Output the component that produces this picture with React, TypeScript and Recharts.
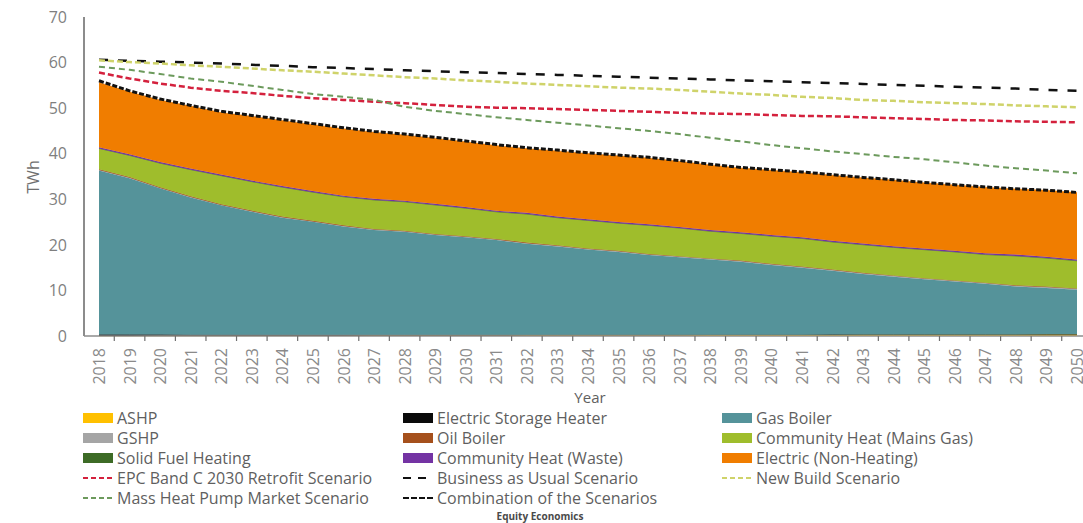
import { Area, ComposedChart, Line, XAxis, YAxis } from 'recharts'

const years = [
  '2018', '2019', '2020', '2021', '2022', '2023', '2024', '2025', '2026', '2027', '2028',
  '2029', '2030', '2031', '2032', '2033', '2034', '2035', '2036', '2037', '2038', '2039',
  '2040', '2041', '2042', '2043', '2044', '2045', '2046', '2047', '2048', '2049', '2050',
]

// stacked technologies (TWh), bottom to top
const ashp = [
  0.02, 0.02, 0.03, 0.03, 0.04, 0.05, 0.06, 0.07, 0.08, 0.09, 0.1, 0.11, 0.12, 0.13, 0.14, 0.15,
  0.16, 0.17, 0.18, 0.19, 0.2, 0.21, 0.22, 0.23, 0.24, 0.25, 0.26, 0.27, 0.28, 0.29, 0.3, 0.31, 0.32,
]
const storageHeater = [
  0.32, 0.3, 0.28, 0.26, 0.24, 0.22, 0.2, 0.18, 0.17, 0.16, 0.15, 0.14, 0.13, 0.12, 0.11, 0.1,
  0.1, 0.09, 0.09, 0.08, 0.08, 0.08, 0.07, 0.07, 0.07, 0.06, 0.06, 0.06, 0.06, 0.05, 0.05, 0.05, 0.05,
]
const gasBoiler = [
  36.0, 34.3, 32.1, 30.1, 28.4, 27.0, 25.7, 24.8, 23.8, 23.0, 22.6, 21.9, 21.4, 20.8, 20.0, 19.4,
  18.7, 18.2, 17.5, 17.0, 16.5, 16.0, 15.3, 14.7, 14.0, 13.3, 12.7, 12.1, 11.6, 11.1, 10.5, 10.2, 9.8,
]
const gshp = [
  0.08, 0.08, 0.08, 0.09, 0.09, 0.09, 0.1, 0.1, 0.1, 0.11, 0.11, 0.12, 0.12, 0.12, 0.13, 0.13,
  0.14, 0.14, 0.14, 0.15, 0.15, 0.16, 0.16, 0.16, 0.17, 0.17, 0.18, 0.18, 0.18, 0.19, 0.19, 0.2, 0.2,
]
const oilBoiler = [
  0.18, 0.18, 0.17, 0.17, 0.16, 0.16, 0.15, 0.15, 0.14, 0.14, 0.13, 0.13, 0.13, 0.12, 0.12, 0.12,
  0.11, 0.11, 0.11, 0.1, 0.1, 0.1, 0.1, 0.09, 0.09, 0.09, 0.09, 0.08, 0.08, 0.08, 0.08, 0.08, 0.08,
]
const communityMainsGas = [
  4.5, 4.7, 5.2, 5.8, 6.2, 6.3, 6.4, 6.2, 6.2, 6.3, 6.3, 6.3, 6.1, 5.9, 6.2, 6.0,
  6.1, 6.0, 6.2, 6.1, 5.9, 5.9, 6.0, 6.1, 6.0, 6.1, 6.1, 6.2, 6.2, 6.1, 6.4, 6.2, 6.0,
]
const solidFuel = [
  0.05, 0.05, 0.05, 0.05, 0.05, 0.05, 0.05, 0.05, 0.05, 0.05, 0.05, 0.05, 0.05, 0.05, 0.05, 0.05,
  0.05, 0.05, 0.05, 0.05, 0.05, 0.05, 0.05, 0.05, 0.05, 0.05, 0.05, 0.05, 0.05, 0.05, 0.05, 0.05, 0.05,
]
const communityWaste = [
  0.25, 0.25, 0.25, 0.25, 0.25, 0.25, 0.25, 0.26, 0.26, 0.26, 0.26, 0.26, 0.26, 0.26, 0.27, 0.27,
  0.27, 0.27, 0.27, 0.27, 0.27, 0.28, 0.28, 0.28, 0.28, 0.28, 0.28, 0.28, 0.28, 0.29, 0.29, 0.29, 0.29,
]
const electricNonHeating = [
  14.2, 13.7, 13.6, 13.7, 13.6, 14.1, 14.4, 14.6, 14.7, 14.6, 14.4, 14.4, 14.3, 14.3, 14.1, 14.4,
  14.4, 14.5, 14.5, 14.4, 14.3, 14.1, 14.2, 14.2, 14.4, 14.4, 14.5, 14.4, 14.4, 14.5, 14.4, 14.6, 14.7,
]

// scenario totals (TWh)
const epcRetrofit = [
  57.8, 56.5, 55.4, 54.5, 53.8, 53.3, 52.7, 52.2, 51.8, 51.4, 51.1, 50.7, 50.3, 50.1, 50.0, 49.8,
  49.6, 49.4, 49.2, 49.0, 48.8, 48.7, 48.5, 48.3, 48.2, 48.0, 47.8, 47.6, 47.4, 47.3, 47.1, 47.0, 46.9,
]
const businessAsUsual = [
  60.6, 60.4, 60.2, 60.0, 59.8, 59.5, 59.3, 59.0, 58.8, 58.6, 58.3, 58.1, 57.9, 57.7, 57.5, 57.3,
  57.1, 56.9, 56.7, 56.5, 56.3, 56.1, 55.9, 55.7, 55.5, 55.3, 55.1, 54.9, 54.7, 54.5, 54.3, 54.0, 53.8,
]
const newBuild = [
  60.5, 60.1, 59.8, 59.4, 59.1, 58.7, 58.3, 58.0, 57.6, 57.2, 56.8, 56.5, 56.1, 55.8, 55.4, 55.1,
  54.8, 54.5, 54.3, 54.0, 53.6, 53.2, 52.9, 52.5, 52.2, 51.8, 51.6, 51.3, 51.1, 50.9, 50.6, 50.4, 50.2,
]
const massHeatPump = [
  59.1, 58.4, 57.5, 56.5, 55.8, 54.9, 54.0, 53.1, 52.5, 51.8, 50.3, 49.4, 48.7, 48.0, 47.4, 46.8,
  46.2, 45.6, 45.0, 44.3, 43.5, 42.7, 41.9, 41.2, 40.5, 39.9, 39.3, 38.8, 38.1, 37.4, 36.8, 36.3, 35.7,
]
const combination = [
  56.0, 53.8, 52.0, 50.6, 49.3, 48.4, 47.5, 46.6, 45.7, 44.9, 44.3, 43.6, 42.8, 42.0, 41.3, 40.8,
  40.2, 39.7, 39.2, 38.5, 37.7, 37.0, 36.5, 36.0, 35.4, 34.8, 34.3, 33.7, 33.2, 32.7, 32.3, 32.0, 31.5,
]

const yTicks = [0, 10, 20, 30, 40, 50, 60, 70]

const data = years.map((year, i) => ({
  year,
  ashp: ashp[i],
  storageHeater: storageHeater[i],
  gasBoiler: gasBoiler[i],
  gshp: gshp[i],
  oilBoiler: oilBoiler[i],
  communityMainsGas: communityMainsGas[i],
  solidFuel: solidFuel[i],
  communityWaste: communityWaste[i],
  electricNonHeating: electricNonHeating[i],
  epcRetrofit: epcRetrofit[i],
  businessAsUsual: businessAsUsual[i],
  newBuild: newBuild[i],
  massHeatPump: massHeatPump[i],
  combination: combination[i],
}))

const areas = [
  { key: 'ashp', name: 'ASHP', color: '#ffc000' },
  { key: 'storageHeater', name: 'Electric Storage Heater', color: '#0a0a0a' },
  { key: 'gasBoiler', name: 'Gas Boiler', color: '#55939a' },
  { key: 'gshp', name: 'GSHP', color: '#a5a5a5' },
  { key: 'oilBoiler', name: 'Oil Boiler', color: '#a5501c' },
  { key: 'communityMainsGas', name: 'Community Heat (Mains Gas)', color: '#9fbd2c' },
  { key: 'solidFuel', name: 'Solid Fuel Heating', color: '#3d6b26' },
  { key: 'communityWaste', name: 'Community Heat (Waste)', color: '#7433a3' },
  { key: 'electricNonHeating', name: 'Electric (Non-Heating)', color: '#f07d00' },
]

const lines = [
  { key: 'epcRetrofit', name: 'EPC Band C 2030 Retrofit Scenario', color: '#d4213d', width: 2.5, dash: '6 3', legendDash: '5 3' },
  { key: 'businessAsUsual', name: 'Business as Usual Scenario', color: '#111111', width: 2.5, dash: '9 10', legendDash: '8 7' },
  { key: 'newBuild', name: 'New Build Scenario', color: '#cfd36a', width: 2.5, dash: '6 3', legendDash: '5 3' },
  { key: 'massHeatPump', name: 'Mass Heat Pump Market Scenario', color: '#6c9a5c', width: 2, dash: '6 4', legendDash: '5 3' },
  { key: 'combination', name: 'Combination of the Scenarios', color: '#111111', width: 3, dash: '5 2', legendDash: '6 2' },
]

const WIDTH = 1083
const HEIGHT = 523
const TOP = 17
const PLOT_H = 319
const AXIS_Y = TOP + PLOT_H
const AXIS_X = 84
const PAD_LEFT = 15
const PAD_RIGHT = 6
const HALF_STEP = (WIDTH - PAD_RIGHT - AXIS_X - PAD_LEFT) / (years.length - 1) / 2
const FONT = '"Open Sans", sans-serif'
const AXIS_COLOR = '#8c8c8c'

function YearTick(props: any) {
  const { x, payload } = props
  const ty = AXIS_Y + 12
  return (
    <g>
      <line x1={x + HALF_STEP} y1={AXIS_Y} x2={x + HALF_STEP} y2={AXIS_Y + 5} stroke="#6f6f6f" strokeWidth={1.2} />
      <text
        x={x}
        y={ty}
        transform={`rotate(-90 ${x} ${ty})`}
        textAnchor="end"
        dominantBaseline="central"
        fill="#8a8a8a"
        fontSize={16}
        fontFamily={FONT}
      >
        {payload.value}
      </text>
    </g>
  )
}

function LegendSwatch({ item }: { item: any }) {
  if (item.dash) {
    return (
      <svg width={30} height={10} style={{ flex: 'none' }}>
        <line x1={0} y1={5} x2={30} y2={5} stroke={item.color} strokeWidth={2} strokeDasharray={item.legendDash} />
      </svg>
    )
  }
  return <div style={{ width: 30, height: 10, background: item.color, flex: 'none' }} />
}

function ChartLegend() {
  // row-wise order, three columns
  const items = [...areas, ...lines]
  return (
    <div
      style={{
        position: 'absolute',
        left: 83,
        top: 408,
        display: 'grid',
        gridTemplateColumns: '320px 319px 320px',
        gridAutoRows: '20px',
        fontFamily: FONT,
        fontSize: 16,
        color: '#5f5f5f',
      }}
    >
      {items.map((item) => (
        <div key={item.key} style={{ display: 'flex', alignItems: 'center', gap: 4, whiteSpace: 'nowrap' }}>
          <LegendSwatch item={item} />
          <span style={{ lineHeight: '18px' }}>{item.name}</span>
        </div>
      ))}
    </div>
  )
}

export default function App() {
  return (
    <div style={{ position: 'absolute', left: 0, top: 0, width: WIDTH, height: HEIGHT, background: '#fff' }}>
      <ComposedChart
        width={WIDTH}
        height={HEIGHT}
        data={data}
        margin={{ top: TOP, right: 0, bottom: 0, left: 0 }}
      >
        <XAxis
          dataKey="year"
          interval={0}
          height={HEIGHT - AXIS_Y}
          padding={{ left: PAD_LEFT, right: PAD_RIGHT }}
          tickLine={false}
          axisLine={{ stroke: AXIS_COLOR, strokeWidth: 1.5 }}
          tick={<YearTick />}
          label={{
            content: () => (
              <text x={590} y={397} textAnchor="middle" dominantBaseline="central" fill="#5f5f5f" fontSize={15} fontFamily={FONT}>
                Year
              </text>
            ),
          }}
        />
        <YAxis
          width={AXIS_X}
          domain={[0, 70]}
          ticks={yTicks}
          interval={0}
          tickLine={false}
          tickSize={0}
          tickMargin={17}
          axisLine={{ stroke: AXIS_COLOR, strokeWidth: 2 }}
          tick={{ fill: '#7f7f7f', fontSize: 16, fontFamily: FONT }}
          label={{
            content: () => (
              <text x={33} y={177} transform="rotate(-90 33 177)" textAnchor="middle" dominantBaseline="central" fill="#6f6f6f" fontSize={16} fontFamily={FONT}>
                TWh
              </text>
            ),
          }}
        />
        {areas.map((a) => (
          <Area
            key={a.key}
            type="linear"
            dataKey={a.key}
            name={a.name}
            stackId="tech"
            fill={a.color}
            fillOpacity={1}
            stroke={a.color}
            strokeWidth={0.5}
            isAnimationActive={false}
          />
        ))}
        {lines.map((l) => (
          <Line
            key={l.key}
            type="linear"
            dataKey={l.key}
            name={l.name}
            stroke={l.color}
            strokeWidth={l.width}
            strokeDasharray={l.dash}
            dot={false}
            activeDot={false}
            isAnimationActive={false}
          />
        ))}
      </ComposedChart>
      <ChartLegend />
      <div
        style={{
          position: 'absolute',
          left: 540,
          top: 516,
          transform: 'translate(-50%, -50%)',
          fontFamily: FONT,
          fontSize: 10,
          fontWeight: 700,
          color: '#4a4a4a',
          whiteSpace: 'nowrap',
        }}
      >
        Equity Economics
      </div>
    </div>
  )
}
